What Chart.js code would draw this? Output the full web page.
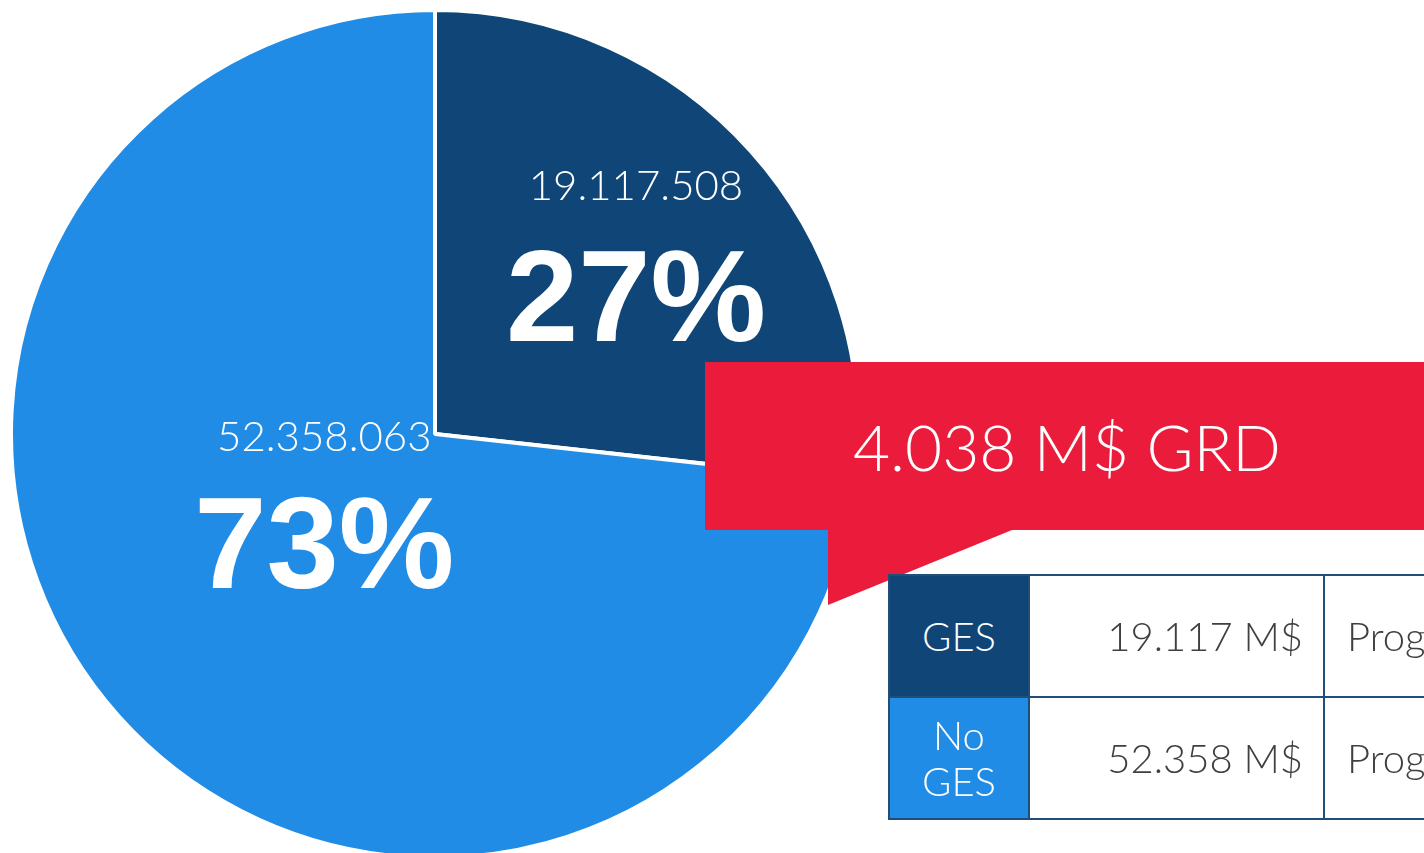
<!DOCTYPE html>
<html>
<head>
<meta charset="utf-8">
<script src="https://cdn.jsdelivr.net/npm/chart.js@4"></script>
<style>
  html, body { margin: 0; padding: 0; background: #fff; }
  body { width: 1424px; height: 853px; overflow: hidden; position: relative; }
  #pieBox { position: absolute; left: 9px; top: 8px; width: 852px; height: 852px; }
  #callout {
    position: absolute; left: 705px; top: 362px; width: 719px; height: 243px;
    background: #eb1c3b;
    clip-path: polygon(0 0, 719px 0, 719px 168px, 307px 168px, 123px 243px, 123px 168px, 0 168px);
  }
  #callout span {
    position: absolute; left: 148px; top: 84px; transform: translateY(-50%);
    color: #fff; font-family: Lato, "Open Sans", sans-serif; font-weight: 300; font-size: 64px; white-space: nowrap;
  }
  #tbl {
    position: absolute; left: 888px; top: 574px; width: 860px; table-layout: fixed; border-collapse: collapse;
    font-family: Lato, "Open Sans", sans-serif; font-weight: 300; font-size: 40px;
  }
  #tbl td { border: 2px solid #1f4e79; height: 120px; padding: 0; white-space: nowrap; overflow: hidden; }
  #tbl td.k { text-align: center; color: #fff; line-height: 46px; white-space: normal; }
  #tbl td.v { text-align: right; padding-right: 20px; color: #404040; }
  #tbl td.p { padding-left: 22px; color: #404040; }
</style>
</head>
<body>
<div id="pieBox"><canvas id="pie"></canvas></div>
<div id="callout"><span id="calloutText"></span></div>
<table id="tbl">
  <colgroup><col style="width:140px"><col style="width:295px"><col style="width:425px"></colgroup>
  <tbody id="tblBody"></tbody>
</table>
<script>
var categories = ['GES', 'No GES'];
var values = [19117508, 52358063];
var sliceColors = ['#0f4677', '#218ce6'];
var programText = ['Programa', 'Programa'];
var calloutLabel = '4.038 M$ GRD';

// label placement, as fractions of the radius from the centre
var labelDX = [0.474, -0.261];
var numberDY = [-0.585, 0.007];
var percentDY = [-0.303, 0.279];

var total = values.reduce(function (a, b) { return a + b; }, 0);

function dots(n) {
  return String(n).replace(/\B(?=(\d{3})+(?!\d))/g, '.');
}

document.getElementById('calloutText').textContent = calloutLabel;

var rows = '';
for (var i = 0; i < categories.length; i++) {
  rows += '<tr><td class="k" style="background:' + sliceColors[i] + '">' + categories[i].replace(' ', '<br>') + '</td>' +
    '<td class="v">' + dots(Math.floor(values[i] / 1000)) + ' M$</td>' +
    '<td class="p">' + programText[i] + '</td></tr>';
}
document.getElementById('tblBody').innerHTML = rows;

var sliceLabels = {
  id: 'sliceLabels',
  afterDatasetsDraw: function (chart) {
    var ctx = chart.ctx;
    var arcs = chart.getDatasetMeta(0).data;
    ctx.save();
    ctx.fillStyle = '#fff';
    ctx.textAlign = 'center';
    ctx.textBaseline = 'middle';
    arcs.forEach(function (arc, i) {
      var r = arc.outerRadius;
      var x = arc.x + labelDX[i] * r;
      ctx.font = '300 42px Lato, "Open Sans", sans-serif';
      ctx.fillText(dots(values[i]), x, arc.y + numberDY[i] * r);
      ctx.font = 'bold 130px "Liberation Sans", Arial, sans-serif';
      ctx.fillText(Math.round(values[i] / total * 100) + '%', x, arc.y + percentDY[i] * r);
    });
    ctx.restore();
  }
};

new Chart(document.getElementById('pie'), {
  type: 'pie',
  data: {
    labels: categories,
    datasets: [{
      data: values,
      backgroundColor: sliceColors,
      borderColor: '#ffffff',
      borderWidth: 4
    }]
  },
  options: {
    responsive: true,
    maintainAspectRatio: false,
    animation: false,
    layout: { padding: 0 },
    plugins: {
      legend: { display: false },
      tooltip: { enabled: false }
    }
  },
  plugins: [sliceLabels]
});
</script>
</body>
</html>
